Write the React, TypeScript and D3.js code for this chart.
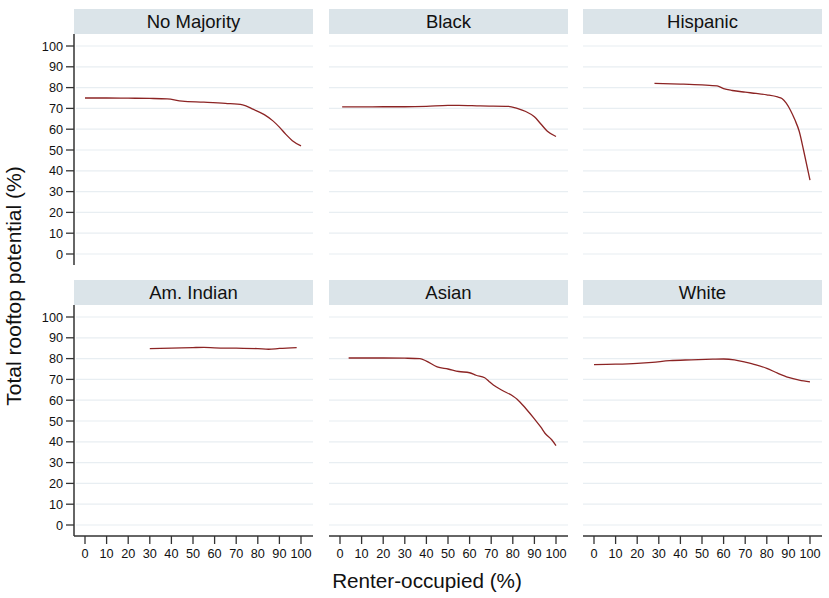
import React from "react";
import * as d3 from "d3";

const panelNames = ["No Majority", "Black", "Hispanic", "Am. Indian", "Asian", "White"];

const noMajorityX = [0, 10, 20, 30, 38, 45, 55, 65, 73, 78, 83, 87, 90, 93, 96, 100];
const noMajorityY = [75, 75, 74.9, 74.8, 74.6, 73.5, 73, 72.4, 71.7, 69.5, 67, 64, 61, 57.5, 54.5, 52];

const blackX = [1, 10, 20, 30, 40, 50, 55, 65, 78, 82, 86, 90, 93, 96, 100];
const blackY = [70.7, 70.7, 70.8, 70.8, 71, 71.5, 71.5, 71.2, 71, 70, 68.5, 66, 62.5, 59, 56.5];

const hispanicX = [28, 40, 50, 57, 60, 64, 70, 75, 80, 85, 87, 89, 91, 93, 95, 97, 100];
const hispanicY = [82, 81.7, 81.3, 80.8, 79.5, 78.6, 77.8, 77.2, 76.5, 75.5, 74.8, 72.5, 69, 64.5, 59, 50, 35.5];

const amIndianX = [30, 40, 50, 55, 60, 70, 80, 85, 90, 98];
const amIndianY = [84.8, 85, 85.3, 85.4, 85.2, 85, 84.8, 84.5, 84.9, 85.3];

const asianX = [4, 20, 30, 37, 40, 45, 50, 55, 60, 63, 67, 69, 71, 75, 80, 82, 86, 90, 93, 95, 98, 100];
const asianY = [80.3, 80.3, 80.2, 80, 78.8, 76, 75, 73.8, 73.2, 72, 70.8, 69, 67.3, 64.8, 62, 60.5, 56, 51, 47, 44, 41, 38.2];

const whiteX = [0, 10, 20, 27, 35, 45, 55, 60, 65, 70, 75, 80, 85, 90, 95, 100];
const whiteY = [77.1, 77.3, 77.7, 78.2, 79, 79.4, 79.7, 79.8, 79.4, 78.3, 77, 75.3, 73, 71, 69.7, 68.8];

const seriesX = [noMajorityX, blackX, hispanicX, amIndianX, asianX, whiteX];
const seriesY = [noMajorityY, blackY, hispanicY, amIndianY, asianY, whiteY];

const yTicks = [0, 10, 20, 30, 40, 50, 60, 70, 80, 90, 100];
const xTicks = [0, 10, 20, 30, 40, 50, 60, 70, 80, 90, 100];

const yTitle = "Total rooftop potential (%)";
const xTitle = "Renter-occupied (%)";

const W = 829;
const H = 598;
const panelLefts = [74, 329, 583];
const panelW = 239;
const rowTops = [9, 280];
const stripH = 25;
const FONT = "'Liberation Sans', Arial, Helvetica, sans-serif";
const lineColor = "#8c2424";
const stripColor = "#dbe4e9";
const gridColor = "#e8eef2";
const axisColor = "#333333";

export default function App() {
  const panels = panelNames.map((name, i) => {
    const col = i % 3;
    const row = Math.floor(i / 3);
    const left = panelLefts[col];
    const right = left + panelW;
    const top = rowTops[row];
    const x = d3.scaleLinear().domain([0, 100]).range([left + 11, left + 227]);
    const y = d3.scaleLinear().domain([0, 100]).range([top + 245, top + 37]);
    const axisBottom = top + 256;
    const pts = seriesX[i].map((v, k) => [v, seriesY[i][k]] as [number, number]);
    const line = d3
      .line<[number, number]>()
      .x((d) => x(d[0]))
      .y((d) => y(d[1]))
      .curve(d3.curveMonotoneX);
    return (
      <g key={name}>
        <rect x={left} y={top} width={panelW} height={stripH} fill={stripColor} />
        <text
          x={(left + right) / 2}
          y={top + stripH / 2 + 6.5}
          textAnchor="middle"
          fontSize={18.5}
          fontFamily={FONT}
          fill="#111"
        >
          {name}
        </text>
        {yTicks.map((t) => (
          <line
            key={"g" + t}
            x1={col === 0 ? left + 2 : left}
            x2={right}
            y1={y(t)}
            y2={y(t)}
            stroke={gridColor}
            strokeWidth={1.2}
          />
        ))}
        {col === 0 && (
          <g>
            <line x1={left} x2={left} y1={top + stripH} y2={axisBottom} stroke={axisColor} strokeWidth={1.5} />
            {yTicks.map((t) => (
              <g key={"yt" + t}>
                <line x1={left - 8} x2={left} y1={y(t)} y2={y(t)} stroke={axisColor} strokeWidth={1.3} />
                <text
                  x={left - 11}
                  y={y(t) + 4.5}
                  textAnchor="end"
                  fontSize={12.7}
                  fontFamily={FONT}
                  fill="#111"
                >
                  {t}
                </text>
              </g>
            ))}
          </g>
        )}
        {row === 1 && (
          <g>
            <line x1={left} x2={right} y1={axisBottom} y2={axisBottom} stroke={axisColor} strokeWidth={1.5} />
            {xTicks.map((t) => (
              <g key={"xt" + t}>
                <line x1={x(t)} x2={x(t)} y1={axisBottom} y2={axisBottom + 8} stroke={axisColor} strokeWidth={1.3} />
                <text
                  x={x(t)}
                  y={axisBottom + 22}
                  textAnchor="middle"
                  fontSize={12.7}
                  fontFamily={FONT}
                  fill="#111"
                >
                  {t}
                </text>
              </g>
            ))}
          </g>
        )}
        <path d={line(pts) || ""} fill="none" stroke={lineColor} strokeWidth={1.3} />
      </g>
    );
  });

  return (
    <svg
      width={W}
      height={H}
      viewBox={`0 0 ${W} ${H}`}
      style={{ position: "absolute", left: 0, top: 0, background: "#fff" }}
    >
      <rect x={0} y={0} width={W} height={H} fill="#fff" />
      {panels}
      <text
        transform="translate(21, 286) rotate(-90)"
        textAnchor="middle"
        fontSize={21}
        fontFamily={FONT}
        fill="#111"
      >
        {yTitle}
      </text>
      <text x={427} y={588} textAnchor="middle" fontSize={20.7} fontFamily={FONT} fill="#111">
        {xTitle}
      </text>
    </svg>
  );
}
